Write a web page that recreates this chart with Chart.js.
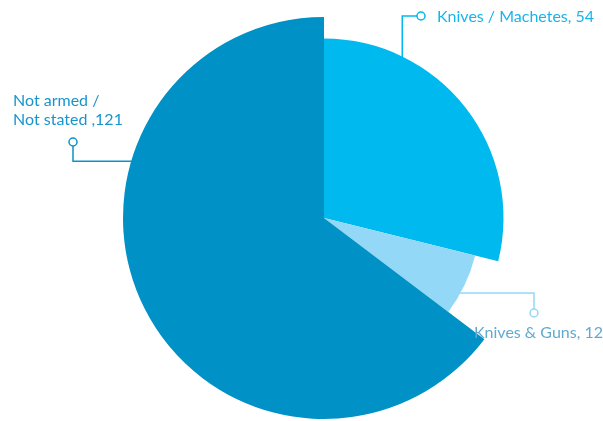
<!DOCTYPE html>
<html>
<head>
<meta charset="utf-8">
<script src="https://cdn.jsdelivr.net/npm/chart.js@4.4.1/dist/chart.umd.min.js"></script>
<style>
  html, body { margin: 0; padding: 0; background: #fff; }
  #wrap { width: 603px; height: 421px; position: relative; }
</style>
</head>
<body>
<div id="wrap"><canvas id="chart"></canvas></div>
<script>
const categories = ["Knives / Machetes", "Knives & Guns", "Not armed / Not stated"];
const counts = [54, 12, 121];
const labelLines = [["Knives / Machetes, 54"], ["Knives & Guns, 12"], ["Not armed /", "Not stated ,121"]];

const sliceColors = ["#00b9ef", "#93d9f7", "#0091c6"];
const textColors = ["#17b5eb", "#62a9cf", "#1a95cc"];
const lineColors = ["#00b9ef", "#93d9f7", "#0a94c9"];
// each slice is drawn at its own share of the full radius
const radiusScale = [0.893, 0.775, 1];

// leader lines: anchor angle on the slice (deg from 12 o'clock), dot position, text position
const callouts = [
  { angle: 26, dot: [421, 16], route: "v", text: [437, 17] },
  { angle: 119, dot: [534, 313], route: "h", text: [474, 333] },
  { angle: 286.5, dot: [73, 142], route: "h", text: [13, 101] }
];

const FONT = "16px Lato";
const LINE_GAP = 19;

const sliceRadius = {
  id: "sliceRadius",
  beforeDatasetDraw(chart) {
    const meta = chart.getDatasetMeta(0);
    meta.data.forEach((arc, i) => {
      if (arc._fullR === undefined) arc._fullR = arc.outerRadius;
      arc.outerRadius = arc._fullR * radiusScale[i];
    });
  }
};

const callout = {
  id: "callout",
  afterDatasetsDraw(chart) {
    const c = chart.ctx;
    const meta = chart.getDatasetMeta(0);
    meta.data.forEach((arc, i) => {
      const spec = callouts[i];
      const a = spec.angle * Math.PI / 180;
      const r = arc.outerRadius - 1;
      const ax = arc.x + r * Math.sin(a);
      const ay = arc.y - r * Math.cos(a);
      const [dx, dy] = spec.dot;
      c.save();
      c.strokeStyle = lineColors[i];
      c.lineWidth = 1.5;
      c.beginPath();
      c.moveTo(ax, ay);
      if (spec.route === "v") {
        c.lineTo(ax, dy);
        c.lineTo(dx - 4, dy);
      } else {
        c.lineTo(dx, ay);
        c.lineTo(dx, ay < dy ? dy - 4 : dy + 4);
      }
      c.stroke();
      c.fillStyle = "#fff";
      c.beginPath();
      c.arc(dx, dy, 4, 0, Math.PI * 2);
      c.fill();
      c.stroke();

      c.fillStyle = textColors[i];
      c.font = FONT;
      c.textAlign = "left";
      c.textBaseline = "middle";
      labelLines[i].forEach((t, k) => c.fillText(t, spec.text[0], spec.text[1] + k * LINE_GAP));
      c.restore();
    });
  }
};

new Chart(document.getElementById("chart"), {
  type: "pie",
  data: {
    labels: categories,
    datasets: [{
      data: counts,
      backgroundColor: sliceColors,
      borderWidth: 0
    }]
  },
  options: {
    responsive: true,
    maintainAspectRatio: false,
    animation: false,
    layout: { padding: { left: 123, right: 78, top: 17, bottom: 2 } },
    plugins: {
      legend: { display: false },
      tooltip: { enabled: false }
    }
  },
  plugins: [sliceRadius, callout]
});
</script>
</body>
</html>
